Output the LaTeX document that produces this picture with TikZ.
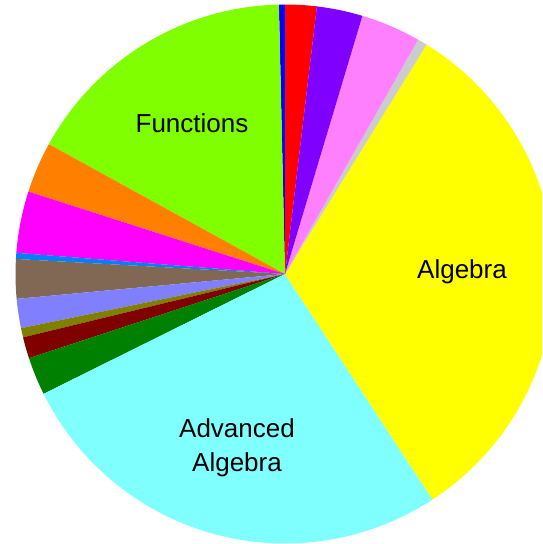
\documentclass[tikz,border=0pt]{standalone}
\usepackage{fontspec}
\setmainfont{Liberation Sans}
\usepackage{tikz}

\definecolor{chartr}{RGB}{128,255,0}
\definecolor{pblue}{RGB}{0,0,255}
\definecolor{pred}{RGB}{255,0,0}
\definecolor{ppurple}{RGB}{128,0,255}
\definecolor{ppink}{RGB}{255,128,255}
\definecolor{pgray}{RGB}{204,204,204}
\definecolor{pyellow}{RGB}{255,255,0}
\definecolor{pcyan}{RGB}{128,255,255}
\definecolor{pdkgreen}{RGB}{0,128,0}
\definecolor{pmaroon}{RGB}{128,0,0}
\definecolor{polive}{RGB}{128,128,0}
\definecolor{plavender}{RGB}{128,128,255}
\definecolor{pbrown}{RGB}{128,104,85}
\definecolor{pazure}{RGB}{0,128,255}
\definecolor{pmagenta}{RGB}{255,0,255}
\definecolor{porange}{RGB}{255,128,0}

\tikzset{
  label text/.style={font=\fontsize{26}{34}\selectfont, align=center, text=black}
}

\begin{document}
\begin{tikzpicture}[x=1pt, y=1pt]
\clip (-285,-270) rectangle (257,274);
\fill[white] (-285,-270) rectangle (257,274);
% slices, counterclockwise from the top
\fill[pred] (0,0) -- (83.2:269.5) arc (83.2:90:269.5) -- cycle;
\fill[pblue] (0,0) -- (90:269.5) arc (90:91.3:269.5) -- cycle;
\fill[chartr] (0,0) -- (91.3:269.5) arc (91.3:151.2:269.5) -- cycle;
\fill[porange] (0,0) -- (151.2:269.5) arc (151.2:162.2:269.5) -- cycle;
\fill[pmagenta] (0,0) -- (162.2:269.5) arc (162.2:175.5:269.5) -- cycle;
\fill[pazure] (0,0) -- (175.5:269.5) arc (175.5:176.8:269.5) -- cycle;
\fill[pbrown] (0,0) -- (176.8:269.5) arc (176.8:185.3:269.5) -- cycle;
\fill[plavender] (0,0) -- (185.3:269.5) arc (185.3:191.6:269.5) -- cycle;
\fill[polive] (0,0) -- (191.6:269.5) arc (191.6:193.6:269.5) -- cycle;
\fill[pmaroon] (0,0) -- (193.6:269.5) arc (193.6:198.2:269.5) -- cycle;
\fill[pdkgreen] (0,0) -- (198.2:269.5) arc (198.2:206.4:269.5) -- cycle;
\fill[pcyan] (0,0) -- (206.4:269.5) arc (206.4:303.2:269.5) -- cycle;
\fill[pyellow] (0,0) -- (-56.8:269.5) arc (-56.8:58.3:269.5) -- cycle;
\fill[pgray] (0,0) -- (58.3:269.5) arc (58.3:60.4:269.5) -- cycle;
\fill[ppink] (0,0) -- (60.4:269.5) arc (60.4:73.3:269.5) -- cycle;
\fill[ppurple] (0,0) -- (73.3:269.5) arc (73.3:83.2:269.5) -- cycle;
% labels
\node[label text] (functions) at (-93,151) {Functions};
\node[label text] (algebra) at (177,2) {Algebra};
\node[label text] (advalgebra) at (-48,-174) {Advanced\\Algebra};
\end{tikzpicture}
\end{document}
